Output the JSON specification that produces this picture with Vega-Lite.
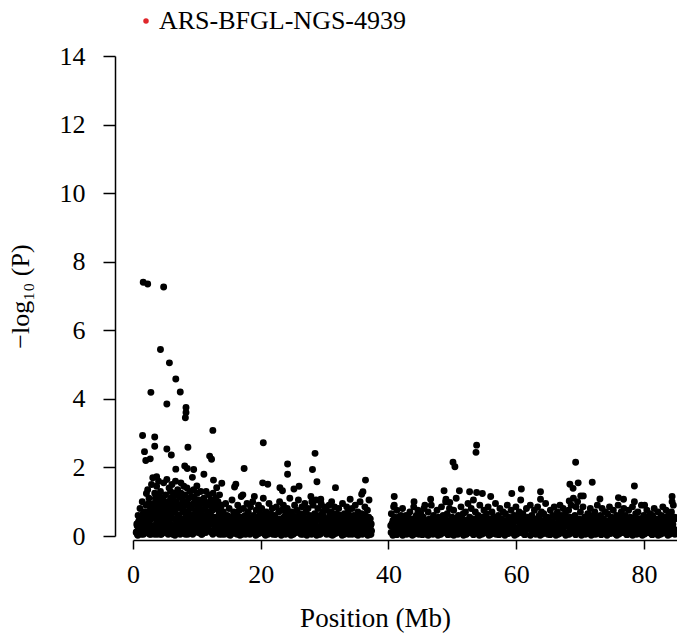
{
"$schema": "https://vega.github.io/schema/vega-lite/v6.json",
"width": 544, "height": 480,
"autosize": {"type": "none"},
"padding": {"left": 133, "top": 56, "right": 0, "bottom": 99},
"background": "white",
"config": {"view": {"stroke": null}, "font": "Liberation Serif, serif"},
"data": {"values": [
{"p":1.6,"l":7.40},{"p":2.3,"l":7.35},{"p":4.8,"l":7.26},{"p":4.3,"l":5.44},{"p":5.7,"l":5.05},{"p":6.7,"l":4.58},{"p":2.8,"l":4.19},{"p":7.4,"l":4.2},{"p":5.3,"l":3.85},{"p":8.3,"l":3.75},{"p":8.3,"l":3.6},{"p":8.2,"l":3.45},{"p":12.5,"l":3.08},{"p":1.5,"l":2.93},{"p":3.4,"l":2.89},{"p":1.8,"l":2.46},{"p":3.4,"l":2.62},{"p":2.0,"l":2.2},{"p":2.7,"l":2.25},{"p":5.3,"l":2.54},{"p":6.0,"l":2.36},{"p":8.6,"l":2.59},{"p":6.7,"l":1.95},{"p":8.1,"l":2.04},{"p":8.5,"l":1.97},{"p":9.5,"l":1.94},{"p":12.0,"l":2.33},{"p":12.3,"l":2.24},{"p":11.1,"l":1.80},{"p":9.3,"l":1.71},{"p":10.0,"l":1.46},{"p":12.6,"l":1.63},{"p":13.1,"l":1.41},{"p":13.9,"l":1.54},{"p":17.4,"l":1.97},{"p":20.4,"l":2.72},{"p":20.3,"l":1.55},{"p":21.1,"l":1.51},{"p":16.1,"l":1.51},{"p":15.9,"l":1.43},{"p":24.2,"l":2.10},{"p":24.2,"l":1.80},{"p":23.0,"l":1.41},{"p":23.4,"l":1.32},{"p":25.2,"l":1.37},{"p":26.0,"l":1.45},{"p":28.5,"l":2.41},{"p":28.1,"l":1.94},{"p":28.8,"l":1.58},{"p":31.7,"l":1.41},{"p":36.4,"l":1.63},{"p":35.8,"l":1.22},{"p":36.0,"l":1.29},{"p":34.0,"l":1.07},{"p":31.1,"l":1.0},{"p":2.1,"l":1.24},{"p":3.7,"l":1.73},{"p":19.0,"l":1.15},{"p":17.2,"l":1.2},{"p":29.4,"l":1.07},{"p":28.0,"l":1.0},
{"p":53.8,"l":2.65},{"p":53.7,"l":2.44},{"p":50.1,"l":2.15},{"p":50.4,"l":2.02},{"p":69.3,"l":2.15},{"p":40.9,"l":1.15},{"p":40.9,"l":0.9},{"p":48.7,"l":1.32},{"p":51.1,"l":1.32},{"p":52.7,"l":1.29},{"p":53.8,"l":1.27},{"p":54.7,"l":1.24},{"p":56.0,"l":1.15},{"p":59.3,"l":1.24},{"p":60.8,"l":1.37},{"p":63.8,"l":1.29},{"p":63.8,"l":1.07},{"p":68.4,"l":1.51},{"p":68.9,"l":1.39},{"p":69.7,"l":1.55},{"p":71.9,"l":1.57},{"p":73.1,"l":1.08},{"p":76.0,"l":1.12},{"p":76.8,"l":1.07},{"p":78.5,"l":1.46},{"p":78.5,"l":1.0},{"p":80.1,"l":0.9},{"p":84.4,"l":1.15},{"p":84.4,"l":1.0},{"p":49.0,"l":1.07},{"p":49.6,"l":0.98},{"p":44.0,"l":1.0},{"p":46.6,"l":1.07},{"p":45.7,"l":0.9},{"p":68.3,"l":1.02},{"p":70.1,"l":1.17},{"p":70.5,"l":1.17},
{"p":0.5,"l":0.1},{"p":0.6,"l":0.35},{"p":0.7,"l":0.05},{"p":0.8,"l":0.6},{"p":0.9,"l":0.2},{"p":0.95,"l":0.45},
{"p":1.05,"l":0.15},{"p":1.1,"l":0.8},{"p":1.2,"l":0.3},{"p":1.3,"l":0.05},{"p":1.35,"l":0.55},{"p":1.45,"l":1.0},{"p":1.5,"l":0.2},{"p":1.6,"l":0.4},{"p":1.7,"l":0.1},{"p":1.75,"l":0.7},{"p":1.85,"l":0.25},{"p":1.95,"l":0.5},
{"p":2.05,"l":0.9},{"p":2.1,"l":0.1},{"p":2.2,"l":0.35},{"p":2.3,"l":1.35},{"p":2.35,"l":0.6},{"p":2.45,"l":0.2},{"p":2.5,"l":1.1},{"p":2.6,"l":0.05},{"p":2.65,"l":0.45},{"p":2.75,"l":0.8},{"p":2.85,"l":0.3},{"p":2.9,"l":1.5},{"p":2.95,"l":0.15},
{"p":3.05,"l":0.65},{"p":3.1,"l":1.7},{"p":3.2,"l":0.25},{"p":3.25,"l":0.95},{"p":3.35,"l":0.1},{"p":3.4,"l":1.25},{"p":3.5,"l":0.5},{"p":3.55,"l":0.3},{"p":3.65,"l":0.75},{"p":3.7,"l":1.45},{"p":3.8,"l":0.05},{"p":3.85,"l":1.05},{"p":3.9,"l":0.4},{"p":3.95,"l":0.2},
{"p":4.0,"l":1.6},{"p":4.1,"l":0.55},{"p":4.15,"l":0.15},{"p":4.25,"l":0.85},{"p":4.3,"l":1.3},{"p":4.4,"l":0.35},{"p":4.45,"l":0.05},{"p":4.55,"l":1.0},{"p":4.6,"l":0.6},{"p":4.7,"l":0.25},{"p":4.8,"l":1.55},{"p":4.85,"l":0.45},{"p":4.95,"l":0.8},
{"p":5.0,"l":0.1},{"p":5.1,"l":1.2},{"p":5.15,"l":0.7},{"p":5.25,"l":0.3},{"p":5.3,"l":1.65},{"p":5.4,"l":0.5},{"p":5.5,"l":0.9},{"p":5.55,"l":0.15},{"p":5.65,"l":1.4},{"p":5.7,"l":0.4},{"p":5.8,"l":0.65},{"p":5.9,"l":1.1},{"p":5.95,"l":0.2},
{"p":6.05,"l":0.55},{"p":6.1,"l":1.5},{"p":6.2,"l":0.05},{"p":6.25,"l":0.95},{"p":6.35,"l":0.3},{"p":6.4,"l":1.25},{"p":6.5,"l":0.7},{"p":6.55,"l":0.15},{"p":6.65,"l":1.6},{"p":6.75,"l":0.45},{"p":6.8,"l":1.0},{"p":6.9,"l":0.25},{"p":6.95,"l":0.8},
{"p":7.0,"l":1.35},{"p":7.1,"l":0.1},{"p":7.2,"l":0.6},{"p":7.25,"l":1.15},{"p":7.35,"l":0.35},{"p":7.45,"l":0.85},{"p":7.5,"l":1.55},{"p":7.6,"l":0.2},{"p":7.65,"l":0.5},{"p":7.75,"l":1.05},{"p":7.85,"l":0.3},{"p":7.9,"l":0.75},{"p":7.95,"l":1.45},
{"p":8.05,"l":0.4},{"p":8.1,"l":1.2},{"p":8.2,"l":0.05},{"p":8.3,"l":0.9},{"p":8.35,"l":0.6},{"p":8.45,"l":1.4},{"p":8.5,"l":0.25},{"p":8.6,"l":0.7},{"p":8.7,"l":1.1},{"p":8.75,"l":0.15},{"p":8.85,"l":0.5},{"p":8.9,"l":1.3},{"p":8.95,"l":0.35},
{"p":9.05,"l":0.8},{"p":9.1,"l":0.2},{"p":9.2,"l":1.15},{"p":9.3,"l":0.45},{"p":9.35,"l":0.05},{"p":9.45,"l":0.95},{"p":9.5,"l":1.35},{"p":9.6,"l":0.3},{"p":9.7,"l":0.65},{"p":9.75,"l":1.0},{"p":9.85,"l":0.15},{"p":9.9,"l":0.55},
{"p":10.05,"l":1.25},{"p":10.1,"l":0.4},{"p":10.2,"l":0.1},{"p":10.3,"l":0.85},{"p":10.35,"l":1.05},{"p":10.45,"l":0.25},{"p":10.55,"l":0.6},{"p":10.6,"l":1.3},{"p":10.7,"l":0.05},{"p":10.8,"l":0.75},{"p":10.85,"l":0.35},{"p":10.95,"l":0.95},
{"p":11.05,"l":0.2},{"p":11.1,"l":1.1},{"p":11.2,"l":0.5},{"p":11.3,"l":0.8},{"p":11.4,"l":0.1},{"p":11.45,"l":1.3},{"p":11.55,"l":0.35},{"p":11.65,"l":0.65},{"p":11.7,"l":0.95},{"p":11.8,"l":0.25},{"p":11.9,"l":1.2},{"p":11.95,"l":0.45},
{"p":12.05,"l":0.7},{"p":12.15,"l":0.15},{"p":12.2,"l":1.05},{"p":12.3,"l":0.4},{"p":12.4,"l":0.85},{"p":12.5,"l":0.05},{"p":12.55,"l":1.25},{"p":12.65,"l":0.55},{"p":12.75,"l":0.3},{"p":12.8,"l":0.9},{"p":12.9,"l":0.2},{"p":12.95,"l":1.1},
{"p":13.05,"l":0.45},{"p":13.1,"l":0.8},{"p":13.2,"l":0.1},{"p":13.3,"l":1.0},{"p":13.4,"l":0.35},{"p":13.5,"l":0.65},{"p":13.55,"l":1.2},{"p":13.65,"l":0.25},{"p":13.75,"l":0.5},{"p":13.85,"l":0.9},{"p":13.9,"l":0.05},{"p":13.95,"l":0.6},
{"p":0.55,"l":0.12},{"p":0.65,"l":0.3},{"p":0.75,"l":0.02},{"p":0.85,"l":0.4},{"p":0.92,"l":0.22},
{"p":1.02,"l":0.35},{"p":1.14,"l":0.08},{"p":1.27,"l":0.5},{"p":1.39,"l":0.2},{"p":1.51,"l":0.62},{"p":1.64,"l":0.05},{"p":1.76,"l":0.4},{"p":1.88,"l":0.15},
{"p":2.07,"l":0.5},{"p":2.19,"l":0.7},{"p":2.31,"l":0.15},{"p":2.44,"l":0.95},{"p":2.57,"l":0.3},{"p":2.69,"l":0.6},{"p":2.82,"l":0.05},{"p":2.94,"l":0.8},
{"p":3.02,"l":0.2},{"p":3.14,"l":0.55},{"p":3.27,"l":0.85},{"p":3.39,"l":0.05},{"p":3.51,"l":1.1},{"p":3.64,"l":0.35},{"p":3.76,"l":0.65},{"p":3.88,"l":0.9},
{"p":4.07,"l":0.3},{"p":4.19,"l":1.15},{"p":4.31,"l":0.05},{"p":4.44,"l":0.7},{"p":4.57,"l":0.45},{"p":4.69,"l":1.05},{"p":4.82,"l":0.2},{"p":4.94,"l":0.55},
{"p":5.02,"l":0.85},{"p":5.14,"l":0.2},{"p":5.27,"l":0.6},{"p":5.39,"l":1.0},{"p":5.51,"l":0.05},{"p":5.64,"l":0.75},{"p":5.76,"l":0.35},{"p":5.88,"l":1.3},
{"p":6.07,"l":0.25},{"p":6.19,"l":0.8},{"p":6.31,"l":1.1},{"p":6.44,"l":0.5},{"p":6.57,"l":0.02},{"p":6.69,"l":0.9},{"p":6.82,"l":0.4},{"p":6.94,"l":1.2},
{"p":7.02,"l":0.6},{"p":7.14,"l":0.3},{"p":7.27,"l":0.9},{"p":7.39,"l":0.05},{"p":7.51,"l":1.25},{"p":7.64,"l":0.45},{"p":7.76,"l":0.7},{"p":7.88,"l":0.15},
{"p":8.07,"l":0.95},{"p":8.19,"l":0.5},{"p":8.31,"l":0.2},{"p":8.44,"l":1.0},{"p":8.57,"l":0.05},{"p":8.69,"l":0.4},{"p":8.82,"l":0.85},{"p":8.94,"l":0.6},
{"p":9.02,"l":0.35},{"p":9.14,"l":0.6},{"p":9.27,"l":0.9},{"p":9.39,"l":0.1},{"p":9.51,"l":0.5},{"p":9.64,"l":1.1},{"p":9.76,"l":0.25},{"p":9.88,"l":0.75},
{"p":10.07,"l":0.55},{"p":10.19,"l":0.85},{"p":10.31,"l":0.2},{"p":10.44,"l":0.65},{"p":10.57,"l":1.0},{"p":10.69,"l":0.4},{"p":10.82,"l":0.05},{"p":10.94,"l":0.5},
{"p":11.02,"l":0.6},{"p":11.14,"l":0.3},{"p":11.27,"l":1.0},{"p":11.39,"l":0.55},{"p":11.51,"l":0.15},{"p":11.64,"l":0.9},{"p":11.76,"l":0.4},{"p":11.88,"l":0.7},
{"p":12.07,"l":0.35},{"p":12.19,"l":0.6},{"p":12.31,"l":0.1},{"p":12.44,"l":0.75},{"p":12.57,"l":0.5},{"p":12.69,"l":0.95},{"p":12.82,"l":0.2},{"p":12.94,"l":0.4},
{"p":13.02,"l":0.15},{"p":13.14,"l":0.55},{"p":13.27,"l":0.3},{"p":13.39,"l":0.75},{"p":13.51,"l":0.05},{"p":13.64,"l":0.4},{"p":13.76,"l":0.85},{"p":13.88,"l":0.3},
{"p":14.05,"l":0.3},{"p":14.15,"l":0.7},{"p":14.25,"l":0.1},{"p":14.4,"l":0.5},{"p":14.5,"l":0.95},{"p":14.6,"l":0.2},{"p":14.75,"l":0.6},{"p":14.85,"l":0.35},{"p":14.95,"l":0.05},
{"p":15.05,"l":0.8},{"p":15.15,"l":0.25},{"p":15.3,"l":0.55},{"p":15.4,"l":0.1},{"p":15.5,"l":1.05},{"p":15.65,"l":0.4},{"p":15.75,"l":0.7},{"p":15.85,"l":0.15},{"p":15.95,"l":0.5},
{"p":16.05,"l":0.2},{"p":16.2,"l":0.65},{"p":16.3,"l":0.05},{"p":16.4,"l":0.9},{"p":16.55,"l":0.35},{"p":16.65,"l":0.75},{"p":16.75,"l":0.15},{"p":16.9,"l":0.45},{"p":16.95,"l":1.15},
{"p":17.05,"l":0.55},{"p":17.15,"l":0.1},{"p":17.3,"l":0.8},{"p":17.4,"l":0.3},{"p":17.55,"l":0.6},{"p":17.65,"l":0.05},{"p":17.8,"l":0.4},{"p":17.85,"l":0.95},{"p":17.95,"l":0.2},
{"p":18.05,"l":0.7},{"p":18.15,"l":0.35},{"p":18.3,"l":0.1},{"p":18.4,"l":0.85},{"p":18.5,"l":0.5},{"p":18.65,"l":0.2},{"p":18.75,"l":1.0},{"p":18.85,"l":0.6},{"p":18.95,"l":0.3},
{"p":19.05,"l":0.15},{"p":19.2,"l":0.45},{"p":19.3,"l":0.75},{"p":19.45,"l":0.05},{"p":19.55,"l":0.55},{"p":19.65,"l":0.9},{"p":19.75,"l":0.25},{"p":19.9,"l":0.65},{"p":19.95,"l":0.1},
{"p":20.05,"l":0.4},{"p":20.15,"l":0.8},{"p":20.3,"l":0.2},{"p":20.4,"l":1.1},{"p":20.55,"l":0.6},{"p":20.65,"l":0.05},{"p":20.75,"l":0.35},{"p":20.85,"l":0.7},{"p":20.95,"l":0.15},
{"p":21.05,"l":0.55},{"p":21.2,"l":0.25},{"p":21.3,"l":0.95},{"p":21.45,"l":0.1},{"p":21.55,"l":0.65},{"p":21.7,"l":0.35},{"p":21.8,"l":0.8},{"p":21.9,"l":0.05},{"p":21.95,"l":0.45},
{"p":22.05,"l":0.2},{"p":22.2,"l":0.6},{"p":22.3,"l":0.05},{"p":22.45,"l":0.85},{"p":22.55,"l":0.4},{"p":22.65,"l":0.15},{"p":22.8,"l":0.7},{"p":22.9,"l":0.3},{"p":22.95,"l":1.0},
{"p":23.1,"l":0.5},{"p":23.2,"l":0.1},{"p":23.3,"l":0.75},{"p":23.45,"l":0.3},{"p":23.55,"l":0.9},{"p":23.7,"l":0.2},{"p":23.8,"l":0.55},{"p":23.9,"l":0.05},{"p":23.95,"l":0.65},
{"p":24.05,"l":0.35},{"p":24.15,"l":0.8},{"p":24.3,"l":0.15},{"p":24.45,"l":0.5},{"p":24.55,"l":1.1},{"p":24.65,"l":0.25},{"p":24.8,"l":0.7},{"p":24.9,"l":0.05},{"p":24.95,"l":0.45},
{"p":25.05,"l":0.6},{"p":25.2,"l":0.2},{"p":25.3,"l":0.9},{"p":25.4,"l":0.4},{"p":25.55,"l":0.1},{"p":25.65,"l":0.75},{"p":25.75,"l":0.3},{"p":25.9,"l":1.05},{"p":25.95,"l":0.5},
{"p":26.1,"l":0.15},{"p":26.2,"l":0.65},{"p":26.35,"l":0.35},{"p":26.45,"l":0.85},{"p":26.6,"l":0.05},{"p":26.7,"l":0.55},{"p":26.8,"l":0.25},{"p":26.9,"l":0.95},{"p":26.95,"l":0.4},
{"p":27.05,"l":0.7},{"p":27.15,"l":0.1},{"p":27.3,"l":0.5},{"p":27.4,"l":0.8},{"p":27.55,"l":0.2},{"p":27.65,"l":0.6},{"p":27.8,"l":0.35},{"p":27.85,"l":1.15},{"p":27.95,"l":0.05},
{"p":28.05,"l":0.45},{"p":28.2,"l":0.9},{"p":28.3,"l":0.15},{"p":28.45,"l":0.65},{"p":28.55,"l":0.3},{"p":28.65,"l":1.05},{"p":28.8,"l":0.5},{"p":28.9,"l":0.1},{"p":28.95,"l":0.8},
{"p":29.05,"l":0.25},{"p":29.2,"l":0.6},{"p":29.3,"l":0.05},{"p":29.45,"l":0.95},{"p":29.55,"l":0.4},{"p":29.7,"l":0.7},{"p":29.8,"l":0.15},{"p":29.9,"l":0.5},{"p":29.95,"l":0.85},
{"p":30.05,"l":0.35},{"p":30.2,"l":0.1},{"p":30.3,"l":0.75},{"p":30.45,"l":0.5},{"p":30.55,"l":0.2},{"p":30.7,"l":0.9},{"p":30.8,"l":0.6},{"p":30.9,"l":0.05},{"p":30.95,"l":0.4},
{"p":31.05,"l":0.7},{"p":31.2,"l":0.25},{"p":31.3,"l":0.55},{"p":31.45,"l":0.05},{"p":31.55,"l":0.85},{"p":31.65,"l":0.35},{"p":31.8,"l":0.65},{"p":31.9,"l":0.15},{"p":31.95,"l":0.45},
{"p":32.05,"l":0.2},{"p":32.2,"l":0.8},{"p":32.3,"l":0.4},{"p":32.45,"l":0.1},{"p":32.55,"l":0.6},{"p":32.7,"l":0.3},{"p":32.8,"l":0.95},{"p":32.9,"l":0.5},{"p":32.95,"l":0.05},
{"p":33.1,"l":0.65},{"p":33.2,"l":0.15},{"p":33.35,"l":0.45},{"p":33.45,"l":0.85},{"p":33.6,"l":0.25},{"p":33.7,"l":0.7},{"p":33.8,"l":0.05},{"p":33.9,"l":0.55},{"p":33.95,"l":0.3},
{"p":34.05,"l":0.5},{"p":34.2,"l":0.1},{"p":34.3,"l":0.8},{"p":34.45,"l":0.35},{"p":34.55,"l":0.6},{"p":34.7,"l":0.2},{"p":34.8,"l":0.9},{"p":34.9,"l":0.45},{"p":34.95,"l":0.05},
{"p":35.05,"l":0.3},{"p":35.2,"l":0.7},{"p":35.3,"l":0.15},{"p":35.45,"l":0.55},{"p":35.55,"l":1.0},{"p":35.7,"l":0.25},{"p":35.8,"l":0.65},{"p":35.9,"l":0.05},{"p":35.95,"l":0.4},
{"p":36.05,"l":0.6},{"p":36.2,"l":0.2},{"p":36.3,"l":0.85},{"p":36.45,"l":0.4},{"p":36.55,"l":0.1},{"p":36.7,"l":0.75},{"p":36.8,"l":0.3},{"p":36.9,"l":0.55},{"p":36.95,"l":1.05},
{"p":37.05,"l":0.2},{"p":37.15,"l":0.5},{"p":37.25,"l":0.05},{"p":37.3,"l":0.35},
{"p":14.02,"l":0.12},{"p":14.16,"l":0.38},{"p":14.3,"l":0.05},{"p":14.44,"l":0.5},{"p":14.58,"l":0.22},{"p":14.72,"l":0.45},{"p":14.86,"l":0.3},
{"p":15.08,"l":0.28},{"p":15.22,"l":0.02},{"p":15.36,"l":0.42},{"p":15.5,"l":0.15},{"p":15.64,"l":0.55},{"p":15.78,"l":0.08},{"p":15.92,"l":0.35},
{"p":16.05,"l":0.45},{"p":16.19,"l":0.2},{"p":16.33,"l":0.6},{"p":16.47,"l":0.1},{"p":16.61,"l":0.32},{"p":16.75,"l":0.02},{"p":16.89,"l":0.48},
{"p":17.11,"l":0.05},{"p":17.25,"l":0.5},{"p":17.39,"l":0.25},{"p":17.53,"l":0.4},{"p":17.67,"l":0.12},{"p":17.81,"l":0.58},{"p":17.95,"l":0.18},
{"p":18.02,"l":0.12},{"p":18.16,"l":0.38},{"p":18.3,"l":0.05},{"p":18.44,"l":0.5},{"p":18.58,"l":0.22},{"p":18.72,"l":0.45},{"p":18.86,"l":0.3},
{"p":19.08,"l":0.28},{"p":19.22,"l":0.02},{"p":19.36,"l":0.42},{"p":19.5,"l":0.15},{"p":19.64,"l":0.55},{"p":19.78,"l":0.08},{"p":19.92,"l":0.35},
{"p":20.05,"l":0.45},{"p":20.19,"l":0.2},{"p":20.33,"l":0.6},{"p":20.47,"l":0.1},{"p":20.61,"l":0.32},{"p":20.75,"l":0.02},{"p":20.89,"l":0.48},
{"p":21.11,"l":0.05},{"p":21.25,"l":0.5},{"p":21.39,"l":0.25},{"p":21.53,"l":0.4},{"p":21.67,"l":0.12},{"p":21.81,"l":0.58},{"p":21.95,"l":0.18},
{"p":22.02,"l":0.12},{"p":22.16,"l":0.38},{"p":22.3,"l":0.05},{"p":22.44,"l":0.5},{"p":22.58,"l":0.22},{"p":22.72,"l":0.45},{"p":22.86,"l":0.3},
{"p":23.08,"l":0.28},{"p":23.22,"l":0.02},{"p":23.36,"l":0.42},{"p":23.5,"l":0.15},{"p":23.64,"l":0.55},{"p":23.78,"l":0.08},{"p":23.92,"l":0.35},
{"p":24.05,"l":0.45},{"p":24.19,"l":0.2},{"p":24.33,"l":0.6},{"p":24.47,"l":0.1},{"p":24.61,"l":0.32},{"p":24.75,"l":0.02},{"p":24.89,"l":0.48},
{"p":25.11,"l":0.05},{"p":25.25,"l":0.5},{"p":25.39,"l":0.25},{"p":25.53,"l":0.4},{"p":25.67,"l":0.12},{"p":25.81,"l":0.58},{"p":25.95,"l":0.18},
{"p":26.02,"l":0.12},{"p":26.16,"l":0.38},{"p":26.3,"l":0.05},{"p":26.44,"l":0.5},{"p":26.58,"l":0.22},{"p":26.72,"l":0.45},{"p":26.86,"l":0.3},
{"p":27.08,"l":0.28},{"p":27.22,"l":0.02},{"p":27.36,"l":0.42},{"p":27.5,"l":0.15},{"p":27.64,"l":0.55},{"p":27.78,"l":0.08},{"p":27.92,"l":0.35},
{"p":28.05,"l":0.45},{"p":28.19,"l":0.2},{"p":28.33,"l":0.6},{"p":28.47,"l":0.1},{"p":28.61,"l":0.32},{"p":28.75,"l":0.02},{"p":28.89,"l":0.48},
{"p":29.11,"l":0.05},{"p":29.25,"l":0.5},{"p":29.39,"l":0.25},{"p":29.53,"l":0.4},{"p":29.67,"l":0.12},{"p":29.81,"l":0.58},{"p":29.95,"l":0.18},
{"p":30.02,"l":0.12},{"p":30.16,"l":0.38},{"p":30.3,"l":0.05},{"p":30.44,"l":0.5},{"p":30.58,"l":0.22},{"p":30.72,"l":0.45},{"p":30.86,"l":0.3},
{"p":31.08,"l":0.28},{"p":31.22,"l":0.02},{"p":31.36,"l":0.42},{"p":31.5,"l":0.15},{"p":31.64,"l":0.55},{"p":31.78,"l":0.08},{"p":31.92,"l":0.35},
{"p":32.05,"l":0.45},{"p":32.19,"l":0.2},{"p":32.33,"l":0.6},{"p":32.47,"l":0.1},{"p":32.61,"l":0.32},{"p":32.75,"l":0.02},{"p":32.89,"l":0.48},
{"p":33.11,"l":0.05},{"p":33.25,"l":0.5},{"p":33.39,"l":0.25},{"p":33.53,"l":0.4},{"p":33.67,"l":0.12},{"p":33.81,"l":0.58},{"p":33.95,"l":0.18},
{"p":34.02,"l":0.12},{"p":34.16,"l":0.38},{"p":34.3,"l":0.05},{"p":34.44,"l":0.5},{"p":34.58,"l":0.22},{"p":34.72,"l":0.45},{"p":34.86,"l":0.3},
{"p":35.08,"l":0.28},{"p":35.22,"l":0.02},{"p":35.36,"l":0.42},{"p":35.5,"l":0.15},{"p":35.64,"l":0.55},{"p":35.78,"l":0.08},{"p":35.92,"l":0.35},
{"p":36.05,"l":0.45},{"p":36.19,"l":0.2},{"p":36.33,"l":0.6},{"p":36.47,"l":0.1},{"p":36.61,"l":0.32},{"p":36.75,"l":0.02},{"p":36.89,"l":0.48},
{"p":37.11,"l":0.05},{"p":37.2,"l":0.3},{"p":37.35,"l":0.15},
{"p":40.35,"l":0.3},{"p":40.45,"l":0.65},{"p":40.6,"l":0.1},{"p":40.7,"l":0.45},{"p":40.8,"l":0.85},{"p":40.9,"l":0.2},{"p":40.95,"l":0.55},
{"p":41.05,"l":0.05},{"p":41.2,"l":0.4},{"p":41.3,"l":0.75},{"p":41.45,"l":0.2},{"p":41.6,"l":0.55},{"p":41.7,"l":0.1},{"p":41.85,"l":0.35},{"p":41.95,"l":0.6},
{"p":42.05,"l":0.25},{"p":42.2,"l":0.8},{"p":42.3,"l":0.1},{"p":42.45,"l":0.45},{"p":42.6,"l":0.3},{"p":42.75,"l":0.6},{"p":42.85,"l":0.05},{"p":42.95,"l":0.4},
{"p":43.05,"l":0.55},{"p":43.2,"l":0.15},{"p":43.35,"l":0.7},{"p":43.45,"l":0.35},{"p":43.6,"l":0.05},{"p":43.7,"l":0.5},{"p":43.85,"l":0.25},{"p":43.95,"l":0.85},
{"p":44.1,"l":0.4},{"p":44.2,"l":0.1},{"p":44.35,"l":0.6},{"p":44.5,"l":0.3},{"p":44.6,"l":0.75},{"p":44.75,"l":0.05},{"p":44.85,"l":0.45},{"p":44.95,"l":0.2},
{"p":45.05,"l":0.65},{"p":45.2,"l":0.35},{"p":45.3,"l":0.1},{"p":45.45,"l":0.55},{"p":45.55,"l":0.8},{"p":45.7,"l":0.2},{"p":45.85,"l":0.45},{"p":45.95,"l":0.05},
{"p":46.05,"l":0.3},{"p":46.2,"l":0.7},{"p":46.3,"l":0.15},{"p":46.45,"l":0.5},{"p":46.6,"l":0.25},{"p":46.7,"l":0.9},{"p":46.85,"l":0.4},{"p":46.95,"l":0.05},
{"p":47.05,"l":0.6},{"p":47.2,"l":0.2},{"p":47.35,"l":0.45},{"p":47.45,"l":0.1},{"p":47.6,"l":0.75},{"p":47.7,"l":0.35},{"p":47.85,"l":0.55},{"p":47.95,"l":0.15},
{"p":48.05,"l":0.4},{"p":48.2,"l":0.05},{"p":48.3,"l":0.85},{"p":48.45,"l":0.3},{"p":48.55,"l":0.6},{"p":48.7,"l":0.2},{"p":48.85,"l":0.5},{"p":48.95,"l":1.0},
{"p":49.05,"l":0.25},{"p":49.2,"l":0.65},{"p":49.3,"l":0.1},{"p":49.45,"l":0.45},{"p":49.55,"l":0.8},{"p":49.7,"l":0.35},{"p":49.85,"l":0.05},{"p":49.95,"l":0.55},
{"p":50.05,"l":0.3},{"p":50.2,"l":0.75},{"p":50.3,"l":0.15},{"p":50.45,"l":0.5},{"p":50.6,"l":1.1},{"p":50.7,"l":0.4},{"p":50.85,"l":0.05},{"p":50.95,"l":0.6},
{"p":51.05,"l":0.2},{"p":51.2,"l":0.55},{"p":51.35,"l":0.85},{"p":51.45,"l":0.35},{"p":51.6,"l":0.1},{"p":51.7,"l":0.65},{"p":51.85,"l":0.25},{"p":51.95,"l":0.45},
{"p":52.05,"l":0.7},{"p":52.2,"l":0.05},{"p":52.3,"l":0.4},{"p":52.45,"l":0.95},{"p":52.6,"l":0.2},{"p":52.7,"l":0.55},{"p":52.85,"l":0.3},{"p":52.95,"l":0.8},
{"p":53.05,"l":0.15},{"p":53.2,"l":0.5},{"p":53.3,"l":1.05},{"p":53.45,"l":0.35},{"p":53.6,"l":0.7},{"p":53.7,"l":0.1},{"p":53.85,"l":0.45},{"p":53.95,"l":0.25},
{"p":54.05,"l":0.6},{"p":54.2,"l":0.2},{"p":54.3,"l":0.9},{"p":54.45,"l":0.4},{"p":54.6,"l":0.05},{"p":54.7,"l":0.55},{"p":54.85,"l":0.3},{"p":54.95,"l":0.75},
{"p":55.05,"l":0.35},{"p":55.2,"l":0.1},{"p":55.35,"l":0.65},{"p":55.45,"l":0.45},{"p":55.6,"l":0.85},{"p":55.7,"l":0.2},{"p":55.85,"l":0.5},{"p":55.95,"l":0.05},
{"p":56.1,"l":0.4},{"p":56.2,"l":0.7},{"p":56.35,"l":0.15},{"p":56.45,"l":0.55},{"p":56.6,"l":0.3},{"p":56.75,"l":0.95},{"p":56.85,"l":0.05},{"p":56.95,"l":0.45},
{"p":57.05,"l":0.25},{"p":57.2,"l":0.6},{"p":57.3,"l":0.1},{"p":57.45,"l":0.8},{"p":57.6,"l":0.35},{"p":57.7,"l":0.5},{"p":57.85,"l":0.15},{"p":57.95,"l":0.7},
{"p":58.05,"l":0.45},{"p":58.2,"l":0.05},{"p":58.3,"l":0.65},{"p":58.45,"l":0.3},{"p":58.6,"l":0.9},{"p":58.7,"l":0.2},{"p":58.85,"l":0.55},{"p":58.95,"l":0.1},
{"p":59.05,"l":0.35},{"p":59.2,"l":0.75},{"p":59.3,"l":0.15},{"p":59.45,"l":0.5},{"p":59.6,"l":0.25},{"p":59.7,"l":0.6},{"p":59.85,"l":0.05},{"p":59.95,"l":0.85},
{"p":60.05,"l":0.2},{"p":60.2,"l":0.55},{"p":60.35,"l":0.1},{"p":60.45,"l":0.7},{"p":60.6,"l":0.4},{"p":60.7,"l":1.05},{"p":60.85,"l":0.3},{"p":60.95,"l":0.5},
{"p":61.05,"l":0.65},{"p":61.2,"l":0.15},{"p":61.3,"l":0.45},{"p":61.45,"l":0.05},{"p":61.6,"l":0.8},{"p":61.7,"l":0.35},{"p":61.85,"l":0.55},{"p":61.95,"l":0.25},
{"p":62.05,"l":0.4},{"p":62.2,"l":0.9},{"p":62.3,"l":0.2},{"p":62.45,"l":0.6},{"p":62.6,"l":0.1},{"p":62.7,"l":0.45},{"p":62.85,"l":0.75},{"p":62.95,"l":0.3},
{"p":63.05,"l":0.05},{"p":63.2,"l":0.5},{"p":63.35,"l":0.85},{"p":63.45,"l":0.25},{"p":63.6,"l":0.6},{"p":63.7,"l":0.15},{"p":63.85,"l":0.4},{"p":63.95,"l":0.7},
{"p":64.05,"l":0.3},{"p":64.2,"l":0.1},{"p":64.3,"l":0.65},{"p":64.45,"l":0.45},{"p":64.6,"l":0.95},{"p":64.7,"l":0.2},{"p":64.85,"l":0.55},{"p":64.95,"l":0.05},
{"p":65.05,"l":0.5},{"p":65.2,"l":0.25},{"p":65.35,"l":0.75},{"p":65.45,"l":0.1},{"p":65.6,"l":0.4},{"p":65.7,"l":0.6},{"p":65.85,"l":0.3},{"p":65.95,"l":0.85},
{"p":66.05,"l":0.15},{"p":66.2,"l":0.55},{"p":66.3,"l":0.35},{"p":66.45,"l":0.7},{"p":66.6,"l":0.05},{"p":66.7,"l":0.45},{"p":66.85,"l":0.9},{"p":66.95,"l":0.25},
{"p":67.05,"l":0.6},{"p":67.2,"l":0.2},{"p":67.35,"l":0.8},{"p":67.45,"l":0.4},{"p":67.6,"l":0.1},{"p":67.7,"l":0.65},{"p":67.85,"l":0.3},{"p":67.95,"l":0.5},
{"p":68.05,"l":0.35},{"p":68.2,"l":0.75},{"p":68.3,"l":0.05},{"p":68.45,"l":0.55},{"p":68.6,"l":0.9},{"p":68.7,"l":0.25},{"p":68.85,"l":0.45},{"p":68.95,"l":1.1},
{"p":69.05,"l":0.2},{"p":69.2,"l":0.6},{"p":69.35,"l":0.85},{"p":69.45,"l":0.4},{"p":69.6,"l":1.0},{"p":69.7,"l":0.15},{"p":69.85,"l":0.5},{"p":69.95,"l":0.3},
{"p":70.05,"l":0.7},{"p":70.2,"l":0.1},{"p":70.3,"l":0.45},{"p":70.45,"l":0.85},{"p":70.6,"l":0.3},{"p":70.7,"l":0.55},{"p":70.85,"l":0.05},{"p":70.95,"l":0.4},
{"p":71.05,"l":0.25},{"p":71.2,"l":0.65},{"p":71.35,"l":0.15},{"p":71.45,"l":0.5},{"p":71.6,"l":0.8},{"p":71.7,"l":0.35},{"p":71.85,"l":0.1},{"p":71.95,"l":0.6},
{"p":72.05,"l":0.45},{"p":72.2,"l":0.2},{"p":72.3,"l":0.7},{"p":72.45,"l":0.05},{"p":72.6,"l":0.55},{"p":72.7,"l":0.9},{"p":72.85,"l":0.3},{"p":72.95,"l":0.4},
{"p":73.05,"l":0.15},{"p":73.2,"l":0.6},{"p":73.35,"l":0.35},{"p":73.45,"l":0.8},{"p":73.6,"l":0.1},{"p":73.7,"l":0.5},{"p":73.85,"l":0.25},{"p":73.95,"l":0.7},
{"p":74.05,"l":0.4},{"p":74.2,"l":0.05},{"p":74.3,"l":0.65},{"p":74.45,"l":0.3},{"p":74.6,"l":0.85},{"p":74.7,"l":0.2},{"p":74.85,"l":0.55},{"p":74.95,"l":0.1},
{"p":75.05,"l":0.5},{"p":75.2,"l":0.75},{"p":75.35,"l":0.2},{"p":75.45,"l":0.45},{"p":75.6,"l":0.05},{"p":75.7,"l":0.6},{"p":75.85,"l":0.35},{"p":75.95,"l":0.9},
{"p":76.05,"l":0.25},{"p":76.2,"l":0.55},{"p":76.3,"l":0.1},{"p":76.45,"l":0.7},{"p":76.6,"l":0.4},{"p":76.7,"l":0.15},{"p":76.85,"l":0.8},{"p":76.95,"l":0.3},
{"p":77.05,"l":0.6},{"p":77.2,"l":0.2},{"p":77.35,"l":0.45},{"p":77.45,"l":0.05},{"p":77.6,"l":0.75},{"p":77.7,"l":0.35},{"p":77.85,"l":0.55},{"p":77.95,"l":0.15},
{"p":78.05,"l":0.4},{"p":78.2,"l":0.85},{"p":78.3,"l":0.1},{"p":78.45,"l":0.5},{"p":78.6,"l":0.25},{"p":78.7,"l":0.65},{"p":78.85,"l":0.05},{"p":78.95,"l":0.35},
{"p":79.05,"l":0.7},{"p":79.2,"l":0.15},{"p":79.35,"l":0.5},{"p":79.45,"l":0.3},{"p":79.6,"l":0.9},{"p":79.7,"l":0.05},{"p":79.85,"l":0.45},{"p":79.95,"l":0.6},
{"p":80.05,"l":0.2},{"p":80.2,"l":0.55},{"p":80.3,"l":0.35},{"p":80.45,"l":0.75},{"p":80.6,"l":0.1},{"p":80.7,"l":0.45},{"p":80.85,"l":0.25},{"p":80.95,"l":0.65},
{"p":81.05,"l":0.4},{"p":81.2,"l":0.05},{"p":81.35,"l":0.6},{"p":81.45,"l":0.3},{"p":81.6,"l":0.8},{"p":81.7,"l":0.15},{"p":81.85,"l":0.5},{"p":81.95,"l":0.35},
{"p":82.05,"l":0.1},{"p":82.2,"l":0.7},{"p":82.3,"l":0.25},{"p":82.45,"l":0.5},{"p":82.6,"l":0.05},{"p":82.7,"l":0.6},{"p":82.85,"l":0.4},{"p":82.95,"l":0.85},
{"p":83.05,"l":0.3},{"p":83.2,"l":0.55},{"p":83.35,"l":0.15},{"p":83.45,"l":0.75},{"p":83.6,"l":0.4},{"p":83.7,"l":0.05},{"p":83.85,"l":0.6},{"p":83.95,"l":0.25},
{"p":84.05,"l":0.5},{"p":84.2,"l":0.1},{"p":84.3,"l":0.7},{"p":84.45,"l":0.35},{"p":84.6,"l":0.9},{"p":84.7,"l":0.2},{"p":84.8,"l":0.55},{"p":84.85,"l":0.05},
{"p":40.41,"l":0.1},{"p":40.55,"l":0.36},{"p":40.69,"l":0.02},{"p":40.83,"l":0.28},{"p":40.97,"l":0.15},
{"p":41.02,"l":0.1},{"p":41.16,"l":0.32},{"p":41.3,"l":0.04},{"p":41.44,"l":0.42},{"p":41.58,"l":0.2},{"p":41.72,"l":0.38},{"p":41.86,"l":0.25},
{"p":42.08,"l":0.24},{"p":42.22,"l":0.02},{"p":42.36,"l":0.36},{"p":42.5,"l":0.14},{"p":42.64,"l":0.46},{"p":42.78,"l":0.07},{"p":42.92,"l":0.3},
{"p":43.05,"l":0.4},{"p":43.19,"l":0.17},{"p":43.33,"l":0.5},{"p":43.47,"l":0.09},{"p":43.61,"l":0.28},{"p":43.75,"l":0.02},{"p":43.89,"l":0.44},
{"p":44.11,"l":0.06},{"p":44.25,"l":0.45},{"p":44.39,"l":0.22},{"p":44.53,"l":0.34},{"p":44.67,"l":0.1},{"p":44.81,"l":0.5},{"p":44.95,"l":0.15},
{"p":45.02,"l":0.1},{"p":45.16,"l":0.32},{"p":45.3,"l":0.04},{"p":45.44,"l":0.42},{"p":45.58,"l":0.2},{"p":45.72,"l":0.38},{"p":45.86,"l":0.25},
{"p":46.08,"l":0.24},{"p":46.22,"l":0.02},{"p":46.36,"l":0.36},{"p":46.5,"l":0.14},{"p":46.64,"l":0.46},{"p":46.78,"l":0.07},{"p":46.92,"l":0.3},
{"p":47.05,"l":0.4},{"p":47.19,"l":0.17},{"p":47.33,"l":0.5},{"p":47.47,"l":0.09},{"p":47.61,"l":0.28},{"p":47.75,"l":0.02},{"p":47.89,"l":0.44},
{"p":48.11,"l":0.06},{"p":48.25,"l":0.45},{"p":48.39,"l":0.22},{"p":48.53,"l":0.34},{"p":48.67,"l":0.1},{"p":48.81,"l":0.5},{"p":48.95,"l":0.15},
{"p":49.02,"l":0.1},{"p":49.16,"l":0.32},{"p":49.3,"l":0.04},{"p":49.44,"l":0.42},{"p":49.58,"l":0.2},{"p":49.72,"l":0.38},{"p":49.86,"l":0.25},
{"p":50.08,"l":0.24},{"p":50.22,"l":0.02},{"p":50.36,"l":0.36},{"p":50.5,"l":0.14},{"p":50.64,"l":0.46},{"p":50.78,"l":0.07},{"p":50.92,"l":0.3},
{"p":51.05,"l":0.4},{"p":51.19,"l":0.17},{"p":51.33,"l":0.5},{"p":51.47,"l":0.09},{"p":51.61,"l":0.28},{"p":51.75,"l":0.02},{"p":51.89,"l":0.44},
{"p":52.11,"l":0.06},{"p":52.25,"l":0.45},{"p":52.39,"l":0.22},{"p":52.53,"l":0.34},{"p":52.67,"l":0.1},{"p":52.81,"l":0.5},{"p":52.95,"l":0.15},
{"p":53.02,"l":0.1},{"p":53.16,"l":0.32},{"p":53.3,"l":0.04},{"p":53.44,"l":0.42},{"p":53.58,"l":0.2},{"p":53.72,"l":0.38},{"p":53.86,"l":0.25},
{"p":54.08,"l":0.24},{"p":54.22,"l":0.02},{"p":54.36,"l":0.36},{"p":54.5,"l":0.14},{"p":54.64,"l":0.46},{"p":54.78,"l":0.07},{"p":54.92,"l":0.3},
{"p":55.05,"l":0.4},{"p":55.19,"l":0.17},{"p":55.33,"l":0.5},{"p":55.47,"l":0.09},{"p":55.61,"l":0.28},{"p":55.75,"l":0.02},{"p":55.89,"l":0.44},
{"p":56.11,"l":0.06},{"p":56.25,"l":0.45},{"p":56.39,"l":0.22},{"p":56.53,"l":0.34},{"p":56.67,"l":0.1},{"p":56.81,"l":0.5},{"p":56.95,"l":0.15},
{"p":57.02,"l":0.1},{"p":57.16,"l":0.32},{"p":57.3,"l":0.04},{"p":57.44,"l":0.42},{"p":57.58,"l":0.2},{"p":57.72,"l":0.38},{"p":57.86,"l":0.25},
{"p":58.08,"l":0.24},{"p":58.22,"l":0.02},{"p":58.36,"l":0.36},{"p":58.5,"l":0.14},{"p":58.64,"l":0.46},{"p":58.78,"l":0.07},{"p":58.92,"l":0.3},
{"p":59.05,"l":0.4},{"p":59.19,"l":0.17},{"p":59.33,"l":0.5},{"p":59.47,"l":0.09},{"p":59.61,"l":0.28},{"p":59.75,"l":0.02},{"p":59.89,"l":0.44},
{"p":60.11,"l":0.06},{"p":60.25,"l":0.45},{"p":60.39,"l":0.22},{"p":60.53,"l":0.34},{"p":60.67,"l":0.1},{"p":60.81,"l":0.5},{"p":60.95,"l":0.15},
{"p":61.02,"l":0.1},{"p":61.16,"l":0.32},{"p":61.3,"l":0.04},{"p":61.44,"l":0.42},{"p":61.58,"l":0.2},{"p":61.72,"l":0.38},{"p":61.86,"l":0.25},
{"p":62.08,"l":0.24},{"p":62.22,"l":0.02},{"p":62.36,"l":0.36},{"p":62.5,"l":0.14},{"p":62.64,"l":0.46},{"p":62.78,"l":0.07},{"p":62.92,"l":0.3},
{"p":63.05,"l":0.4},{"p":63.19,"l":0.17},{"p":63.33,"l":0.5},{"p":63.47,"l":0.09},{"p":63.61,"l":0.28},{"p":63.75,"l":0.02},{"p":63.89,"l":0.44},
{"p":64.11,"l":0.06},{"p":64.25,"l":0.45},{"p":64.39,"l":0.22},{"p":64.53,"l":0.34},{"p":64.67,"l":0.1},{"p":64.81,"l":0.5},{"p":64.95,"l":0.15},
{"p":65.02,"l":0.1},{"p":65.16,"l":0.32},{"p":65.3,"l":0.04},{"p":65.44,"l":0.42},{"p":65.58,"l":0.2},{"p":65.72,"l":0.38},{"p":65.86,"l":0.25},
{"p":66.08,"l":0.24},{"p":66.22,"l":0.02},{"p":66.36,"l":0.36},{"p":66.5,"l":0.14},{"p":66.64,"l":0.46},{"p":66.78,"l":0.07},{"p":66.92,"l":0.3},
{"p":67.05,"l":0.4},{"p":67.19,"l":0.17},{"p":67.33,"l":0.5},{"p":67.47,"l":0.09},{"p":67.61,"l":0.28},{"p":67.75,"l":0.02},{"p":67.89,"l":0.44},
{"p":68.11,"l":0.06},{"p":68.25,"l":0.45},{"p":68.39,"l":0.22},{"p":68.53,"l":0.34},{"p":68.67,"l":0.1},{"p":68.81,"l":0.5},{"p":68.95,"l":0.15},
{"p":69.02,"l":0.1},{"p":69.16,"l":0.32},{"p":69.3,"l":0.04},{"p":69.44,"l":0.42},{"p":69.58,"l":0.2},{"p":69.72,"l":0.38},{"p":69.86,"l":0.25},
{"p":70.08,"l":0.24},{"p":70.22,"l":0.02},{"p":70.36,"l":0.36},{"p":70.5,"l":0.14},{"p":70.64,"l":0.46},{"p":70.78,"l":0.07},{"p":70.92,"l":0.3},
{"p":71.05,"l":0.4},{"p":71.19,"l":0.17},{"p":71.33,"l":0.5},{"p":71.47,"l":0.09},{"p":71.61,"l":0.28},{"p":71.75,"l":0.02},{"p":71.89,"l":0.44},
{"p":72.11,"l":0.06},{"p":72.25,"l":0.45},{"p":72.39,"l":0.22},{"p":72.53,"l":0.34},{"p":72.67,"l":0.1},{"p":72.81,"l":0.5},{"p":72.95,"l":0.15},
{"p":73.02,"l":0.1},{"p":73.16,"l":0.32},{"p":73.3,"l":0.04},{"p":73.44,"l":0.42},{"p":73.58,"l":0.2},{"p":73.72,"l":0.38},{"p":73.86,"l":0.25},
{"p":74.08,"l":0.24},{"p":74.22,"l":0.02},{"p":74.36,"l":0.36},{"p":74.5,"l":0.14},{"p":74.64,"l":0.46},{"p":74.78,"l":0.07},{"p":74.92,"l":0.3},
{"p":75.05,"l":0.4},{"p":75.19,"l":0.17},{"p":75.33,"l":0.5},{"p":75.47,"l":0.09},{"p":75.61,"l":0.28},{"p":75.75,"l":0.02},{"p":75.89,"l":0.44},
{"p":76.11,"l":0.06},{"p":76.25,"l":0.45},{"p":76.39,"l":0.22},{"p":76.53,"l":0.34},{"p":76.67,"l":0.1},{"p":76.81,"l":0.5},{"p":76.95,"l":0.15},
{"p":77.02,"l":0.1},{"p":77.16,"l":0.32},{"p":77.3,"l":0.04},{"p":77.44,"l":0.42},{"p":77.58,"l":0.2},{"p":77.72,"l":0.38},{"p":77.86,"l":0.25},
{"p":78.08,"l":0.24},{"p":78.22,"l":0.02},{"p":78.36,"l":0.36},{"p":78.5,"l":0.14},{"p":78.64,"l":0.46},{"p":78.78,"l":0.07},{"p":78.92,"l":0.3},
{"p":79.05,"l":0.4},{"p":79.19,"l":0.17},{"p":79.33,"l":0.5},{"p":79.47,"l":0.09},{"p":79.61,"l":0.28},{"p":79.75,"l":0.02},{"p":79.89,"l":0.44},
{"p":80.11,"l":0.06},{"p":80.25,"l":0.45},{"p":80.39,"l":0.22},{"p":80.53,"l":0.34},{"p":80.67,"l":0.1},{"p":80.81,"l":0.5},{"p":80.95,"l":0.15},
{"p":81.02,"l":0.1},{"p":81.16,"l":0.32},{"p":81.3,"l":0.04},{"p":81.44,"l":0.42},{"p":81.58,"l":0.2},{"p":81.72,"l":0.38},{"p":81.86,"l":0.25},
{"p":82.08,"l":0.24},{"p":82.22,"l":0.02},{"p":82.36,"l":0.36},{"p":82.5,"l":0.14},{"p":82.64,"l":0.46},{"p":82.78,"l":0.07},{"p":82.92,"l":0.3},
{"p":83.05,"l":0.4},{"p":83.19,"l":0.17},{"p":83.33,"l":0.5},{"p":83.47,"l":0.09},{"p":83.61,"l":0.28},{"p":83.75,"l":0.02},{"p":83.89,"l":0.44},
{"p":84.11,"l":0.06},{"p":84.25,"l":0.45},{"p":84.39,"l":0.22},{"p":84.53,"l":0.34},{"p":84.67,"l":0.1},{"p":84.81,"l":0.5},{"p":84.95,"l":0.15}
]},
"mark": {"type": "point", "filled": true, "opacity": 1, "size": 48, "shape": "circle"},
"encoding": {
  "x": {"field": "p", "type": "quantitative",
    "scale": {"domain": [0, 85.17], "nice": false, "zero": false},
    "axis": {"values": [0, 20, 40, 60, 80], "grid": false, "offset": 4, "domainColor": "black", "domainWidth": 1.5, "tickColor": "black", "tickWidth": 1.5, "tickSize": 9,
      "labelFont": "Liberation Serif, serif", "labelFontSize": 26, "labelColor": "black", "labelPadding": 12, "labelFlush": false,
      "title": "Position (Mb)", "titleFont": "Liberation Serif, serif", "titleFontSize": 27, "titleFontWeight": "normal", "titleColor": "black", "titleX": 242, "titlePadding": 18}},
  "y": {"field": "l", "type": "quantitative",
    "scale": {"domain": [0, 14], "nice": false, "zero": false},
    "axis": {"values": [0, 2, 4, 6, 8, 10, 12, 14], "grid": false, "offset": 18, "domainColor": "black", "domainWidth": 1.5, "tickColor": "black", "tickWidth": 1.5, "tickSize": 12,
      "labelFont": "Liberation Serif, serif", "labelFontSize": 26, "labelColor": "black", "labelPadding": 18,
      "title": "−log₁₀ (P)", "titleFont": "Liberation Serif, serif", "titleFontSize": 26, "titleFontWeight": "normal", "titleColor": "black", "titlePadding": 26}},
  "color": {"datum": "other",
    "scale": {"domain": ["ARS-BFGL-NGS-4939", "other"], "range": ["#e0262b", "#000000"]},
    "legend": {"values": ["ARS-BFGL-NGS-4939"], "title": null, "orient": "none", "legendX": 0, "legendY": -48, "padding": 0,
      "symbolType": "circle", "symbolSize": 30, "symbolStrokeWidth": 0, "labelFont": "Liberation Serif, serif", "labelFontSize": 26, "labelColor": "black", "labelOffset": 0, "labelLimit": 400}}
}
}
